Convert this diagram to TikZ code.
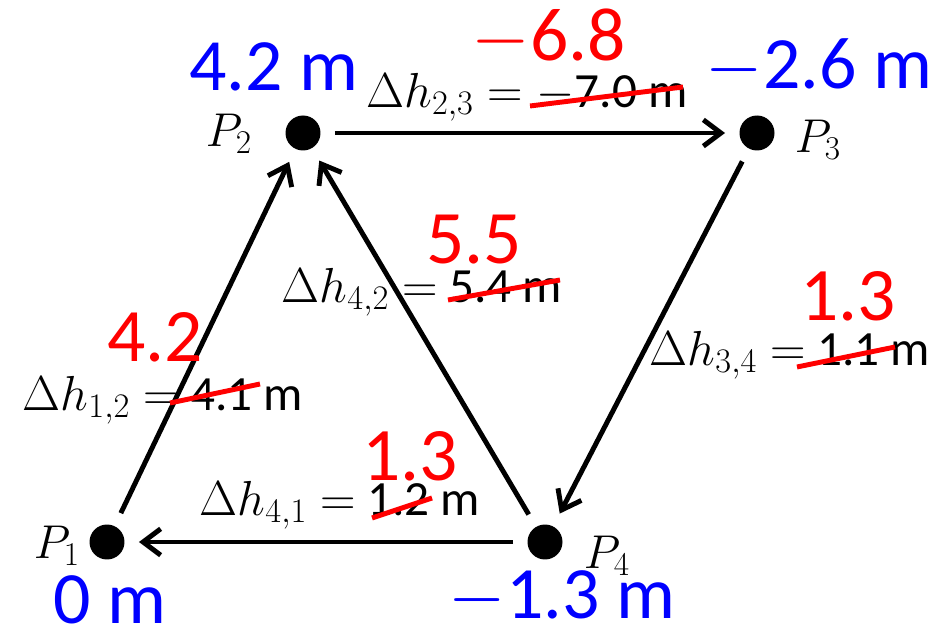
\RequirePackage{fix-cm}
\documentclass[tikz,border=0pt]{standalone}
\usepackage{fontspec}
\setmainfont{Carlito}
\usetikzlibrary{arrows.meta, positioning}

\begin{document}
\begin{tikzpicture}[x=0.02cm, y=-0.02cm,
    pt/.style={circle, fill=black, inner sep=0pt, minimum size=0.7cm, outer sep=0.29cm},
    arrow/.style={-{Straight Barb[length=10pt, width=15pt]}, line width=2.8pt},
    dh/.style={font=\fontsize{28}{32}\selectfont, inner sep=0pt},
    pname/.style={font=\fontsize{27}{30}\selectfont, inner sep=0pt},
    height/.style={text=blue, font=\fontsize{42}{48}\selectfont, inner sep=0pt},
    fixed/.style={text=red, font=\fontsize{43}{48}\selectfont, inner sep=0pt},
    strike/.style={red, line width=2.8pt}
  ]
  \useasboundingbox (0,0) rectangle (937,631);

  % benchmark points
  \node[pt] (p1) at (107,542) {};
  \node[pt] (p2) at (303,133) {};
  \node[pt] (p3) at (757,133) {};
  \node[pt] (p4) at (545,542) {};

  \node[pname] (n1) at (57,546) {$P_1$};
  \node[pname] (n2) at (229,134) {$P_2$};
  \node[pname] (n3) at (818,140) {$P_3$};
  \node[pname] (n4) at (607,556) {$P_4$};

  % heights
  \node[height] (h1) at (110,600) {0 m};
  \node[height] (h2) at (274,67) {4.2 m};
  \node[height] (h3) at (819,67) {$-$2.6 m};
  \node[height] (h4) at (562,598) {$-$1.3 m};

  % legs
  \draw[arrow] (p1) -- (p2);
  \draw[arrow] (p2) -- (p3);
  \draw[arrow] (p3) -- (p4);
  \draw[arrow] (p4) -- (p1);
  \draw[arrow] (p4) -- (p2);

  % measured differences
  \node[dh] (d12) at (163,400) {$\Delta h_{1,2} =$ 4.1 m};
  \node[dh] (d23) at (527,97) {$\Delta h_{2,3} = -$7.0 m};
  \node[dh] (d34) at (790,355) {$\Delta h_{3,4} =$ 1.1 m};
  \node[dh] (d41) at (340,505) {$\Delta h_{4,1} =$ 1.2 m};
  \node[dh] (d42) at (422,292) {$\Delta h_{4,2} =$ 5.4 m};

  % corrections
  \draw[strike] (170,403) -- (260,384);
  \draw[strike] (530,106) -- (683,87);
  \draw[strike] (797,367) -- (895,347);
  \draw[strike] (372,518) -- (432,498);
  \draw[strike] (448,300) -- (560,280);

  \node[fixed] (c12) at (155,337) {4.2};
  \node[fixed] (c23) at (549,38) {$-$6.8};
  \node[fixed] (c34) at (848,296) {1.3};
  \node[fixed] (c41) at (410,456) {1.3};
  \node[fixed] (c42) at (474,240) {5.5};
\end{tikzpicture}
\end{document}
